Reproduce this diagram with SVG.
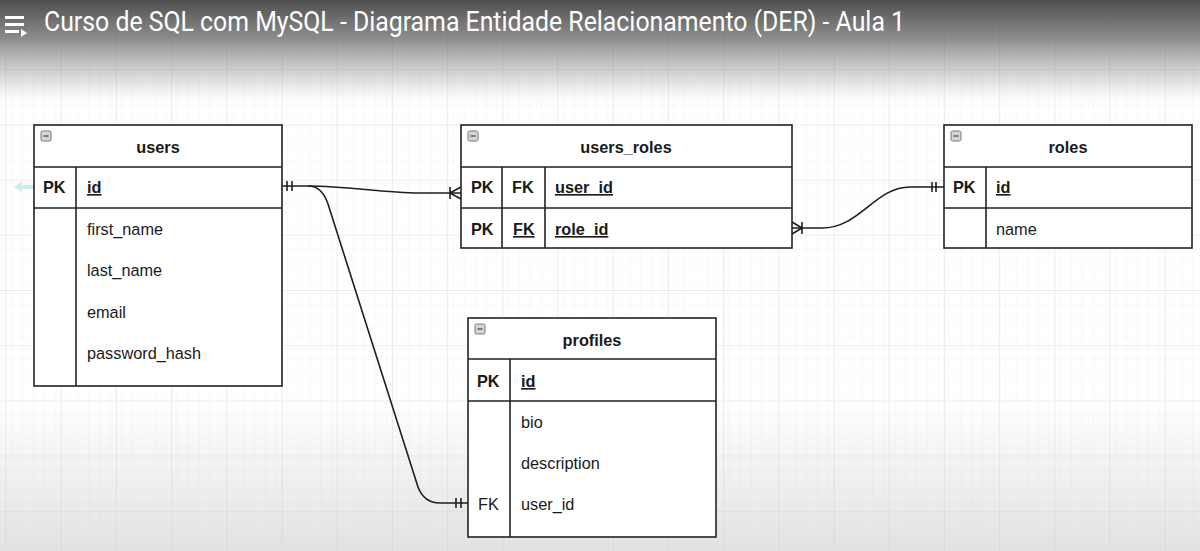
<svg xmlns="http://www.w3.org/2000/svg" width="1200" height="551" viewBox="0 0 1200 551">
  <defs>
    <pattern id="minor" x="5.5" y="14" width="11.04" height="11.04" patternUnits="userSpaceOnUse">
      <path d="M0 0 H11.04 M0 0 V11.04" fill="none" stroke="#f3f3f3" stroke-width="1"/>
    </pattern>
    <pattern id="grid" x="5.5" y="14" width="55.2" height="55.2" patternUnits="userSpaceOnUse">
      <rect width="55.2" height="55.2" fill="url(#minor)"/>
      <path d="M0 0 H55.2 M0 0 V55.2" fill="none" stroke="#dedede" stroke-width="1.2"/>
    </pattern>
    <linearGradient id="topShade" x1="0" y1="0" x2="0" y2="1">
      <stop offset="0" stop-color="#454545" stop-opacity="0.95"/>
      <stop offset="0.35" stop-color="#666666" stop-opacity="0.75"/>
      <stop offset="0.75" stop-color="#9a9a9a" stop-opacity="0.28"/>
      <stop offset="1" stop-color="#ffffff" stop-opacity="0"/>
    </linearGradient>
    <linearGradient id="bottomShade" x1="0" y1="0" x2="0" y2="1">
      <stop offset="0" stop-color="#cfcfcf" stop-opacity="0"/>
      <stop offset="1" stop-color="#cfcfcf" stop-opacity="0.6"/>
    </linearGradient>
    <g id="collapse">
      <rect x="0" y="0" width="10" height="10" rx="1.5" fill="#d6d6d6" stroke="#7a7a7a" stroke-width="1"/>
      <path d="M2.5 5 H7.5" stroke="#555" stroke-width="1.4"/>
    </g>
  </defs>
  <style>
    .box { fill: #ffffff; stroke: #222222; stroke-width: 1.6; }
    .ln { stroke: #222222; stroke-width: 1.6; fill: none; }
    .t { font-family: "Liberation Sans", Arial, sans-serif; font-size: 16.3px; fill: #1a1a1a; }
    .b { font-weight: bold; }
    .h { font-family: "Liberation Sans", Arial, sans-serif; font-size: 16.3px; font-weight: bold; fill: #1a1a1a; text-anchor: middle; }
    .u { text-decoration: underline; }
    .c { stroke: #1e1e1e; stroke-width: 1.6; fill: none; }
  </style>

  <rect width="1200" height="551" fill="#ffffff"/>
  <rect width="1200" height="551" fill="url(#grid)"/>
  <rect x="0" y="400" width="1200" height="151" fill="url(#bottomShade)"/>

  <!-- hover arrow artifact -->
  <path d="M14 187 L22 182 L22 185 L34 185 L34 189 L22 189 L22 192 Z" fill="#bfe6f0" opacity="0.8"/>

  <g id="connectors">
    <!-- users.id -> users_roles.user_id -->
    <path class="c" d="M282 186 L308 186 C350 186 380 193 420 193 L461 193"/>
    <path class="c" d="M287 181 V191 M292 181 V191"/>
    <path class="c" d="M450 187 V199 M450 193 L461 187 M450 193 L461 199"/>
    <!-- users.id -> profiles.user_id -->
    <path class="c" d="M308 186 Q322 186 328 204 L418 487 Q424 503 440 503 L468 503"/>
    <path class="c" d="M456 498 V508 M461 498 V508"/>
    <!-- users_roles.role_id -> roles.id -->
    <path class="c" d="M792 228 L822 228 C860 228 875 187 910 187 L944 187"/>
    <path class="c" d="M802 222 V234 M802 228 L792 222 M802 228 L792 234"/>
    <path class="c" d="M932 182 V192 M936 182 V192"/>
  </g>

  <g id="users">
    <rect class="box" x="34" y="125" width="248" height="261"/>
    <path class="ln" d="M34 167 H282 M34 208 H282 M76 167 V386"/>
    <use href="#collapse" x="41" y="131"/>
    <text class="h" x="158" y="153">users</text>
    <text class="t b" x="43" y="193">PK</text>
    <text class="t b u" x="87" y="193">id</text>
    <text class="t" x="87" y="235">first_name</text>
    <text class="t" x="87" y="276">last_name</text>
    <text class="t" x="87" y="318">email</text>
    <text class="t" x="87" y="359">password_hash</text>
  </g>

  <g id="users_roles">
    <rect class="box" x="461" y="125" width="331" height="123"/>
    <path class="ln" d="M461 167 H792 M461 208 H792 M502 167 V248 M545 167 V248"/>
    <use href="#collapse" x="468" y="131"/>
    <text class="h" x="626" y="153">users_roles</text>
    <text class="t b" x="471" y="193">PK</text>
    <text class="t b" x="512" y="193">FK</text>
    <text class="t b u" x="555" y="193">user_id</text>
    <text class="t b" x="471" y="235">PK</text>
    <text class="t b u" x="513" y="235">FK</text>
    <text class="t b u" x="555" y="235">role_id</text>
  </g>

  <g id="roles">
    <rect class="box" x="944" y="125" width="248" height="123"/>
    <path class="ln" d="M944 167 H1192 M944 208 H1192 M986 167 V248"/>
    <use href="#collapse" x="951" y="131"/>
    <text class="h" x="1068" y="153">roles</text>
    <text class="t b" x="953" y="193">PK</text>
    <text class="t b u" x="996" y="193">id</text>
    <text class="t" x="996" y="235">name</text>
  </g>

  <g id="profiles">
    <rect class="box" x="468" y="318" width="248" height="219"/>
    <path class="ln" d="M468 359 H716 M468 401 H716 M510 359 V537"/>
    <use href="#collapse" x="475" y="324"/>
    <text class="h" x="592" y="346">profiles</text>
    <text class="t b" x="477" y="387">PK</text>
    <text class="t b u" x="521" y="387">id</text>
    <text class="t" x="521" y="428">bio</text>
    <text class="t" x="521" y="469">description</text>
    <text class="t" x="478" y="510">FK</text>
    <text class="t" x="521" y="510">user_id</text>
  </g>

  <!-- video overlay header -->
  <rect x="0" y="0" width="1200" height="110" fill="url(#topShade)"/>
  <g id="menu-icon" fill="#ffffff">
    <rect x="5" y="16" width="19" height="3"/>
    <rect x="5" y="23" width="19" height="3"/>
    <rect x="5" y="30" width="14" height="3"/>
    <path d="M21 29 L27 33 L21 37 Z"/>
  </g>
  <text x="44" y="31" font-family="Roboto, 'Liberation Sans', sans-serif" font-size="27" fill="#ffffff" textLength="861" lengthAdjust="spacingAndGlyphs">Curso de SQL com MySQL - Diagrama Entidade Relacionamento (DER) - Aula 1</text>
</svg>
